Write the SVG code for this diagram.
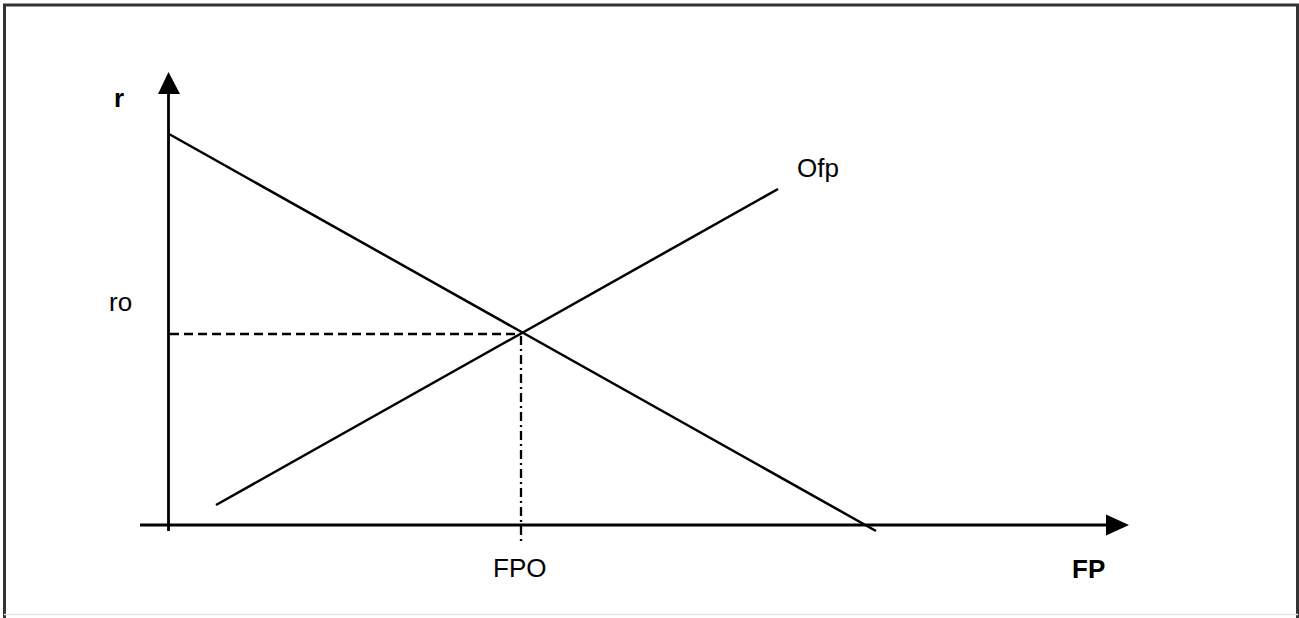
<svg xmlns="http://www.w3.org/2000/svg" width="1299" height="618" viewBox="0 0 1299 618">
<style>
.ax{stroke:#000;stroke-width:2.8;fill:none}
.ln{stroke:#000;stroke-width:2.5;fill:none}
.dash{stroke:#000;stroke-width:2.3;fill:none;stroke-dasharray:9 5}
.dd{stroke:#000;stroke-width:2.3;fill:none;stroke-dasharray:9 4 2 4}
.t{font-family:"Liberation Sans",Arial,sans-serif;font-size:26px;fill:#000}
.b{font-weight:bold}
</style>
<rect x="0" y="0" width="1299" height="618" fill="#fff"/>
<g id="frame">
<path d="M4.5,618 V5 H1297.5 V618" stroke="#333" stroke-width="3" fill="none"/>
<line x1="4" y1="614.5" x2="1298" y2="614.5" stroke="#e6e6e6" stroke-width="1.5"/>
</g>
<g id="connectors">
<line class="ax" x1="168.5" y1="531" x2="168.5" y2="90"/>
<polygon points="168.5,72 158,94 180,94" fill="#000"/>
<line class="ax" x1="140" y1="525" x2="1110" y2="525"/>
<polygon points="1129,525 1106,514.5 1106,535.5" fill="#000"/>
<line class="ln" x1="169" y1="134" x2="876" y2="531"/>
<line class="ln" x1="216" y1="505" x2="778" y2="189"/>
<line class="dash" x1="170" y1="334" x2="521" y2="334"/>
<line class="dd" x1="521" y1="336" x2="521" y2="544"/>
</g>
<g id="label-r"><text class="t b" x="114" y="107" font-size="22">r</text></g>
<g id="label-ro"><text class="t" x="109" y="311">ro</text></g>
<g id="label-ofp"><text class="t" x="797" y="177">Ofp</text></g>
<g id="label-fpo"><text class="t" x="493" y="577">FPO</text></g>
<g id="label-fp"><text class="t b" x="1072" y="578">FP</text></g>
</svg>
